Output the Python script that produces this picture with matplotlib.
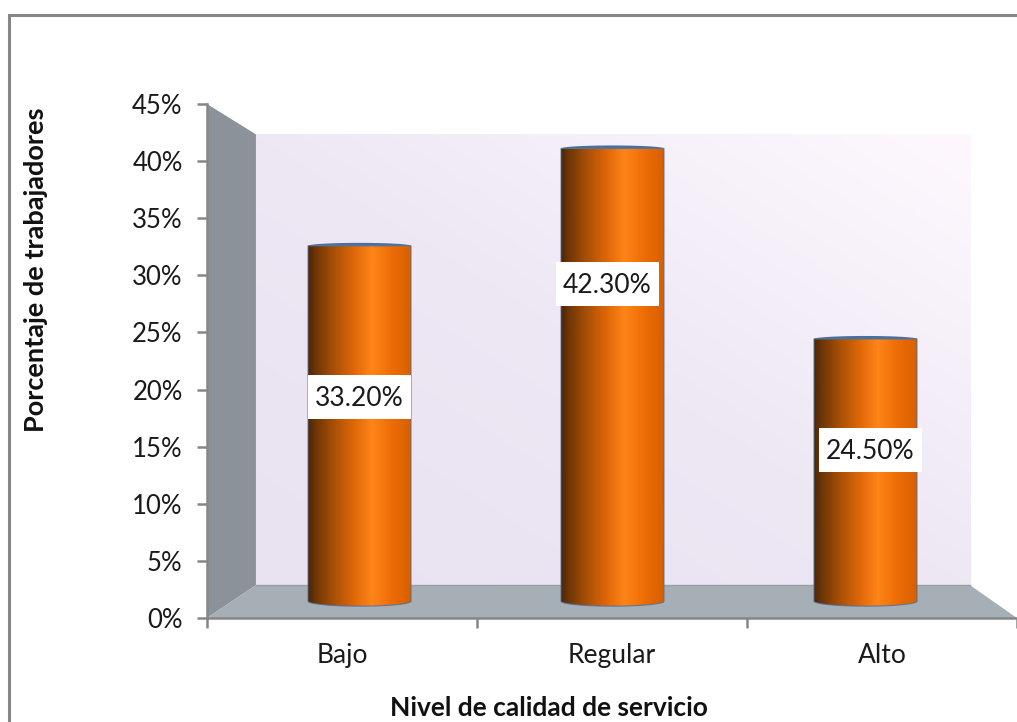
import numpy as np
import matplotlib
matplotlib.use("Agg")
import matplotlib.pyplot as plt
from matplotlib.colors import LinearSegmentedColormap
from matplotlib.lines import Line2D
from matplotlib.patches import Polygon, Rectangle

categories = ["Bajo", "Regular", "Alto"]
values = [0.332, 0.423, 0.245]
label_texts = ["33.20%", "42.30%", "24.50%"]
yticks = [0, 0.05, 0.10, 0.15, 0.20, 0.25, 0.30, 0.35, 0.40, 0.45]

W, H = 1017, 722
LEFT, RIGHT, TOP, BOTTOM = 207, 1017, 104, 618

# size of one pixel in data units
PX = 3 / (RIGHT - LEFT)
PY = 0.45 / (BOTTOM - TOP)

# perspective of the 3d box: everything shrinks towards a vanishing point
VX, VY = (620 - LEFT) * PX, (BOTTOM - 351) * PY
BACK_X, BACK_Y = 0.8815, 0.877
MID = 0.937


def project(x, y, sx, sy):
    return VX + (x - VX) * sx, VY + (y - VY) * sy


plt.rcParams["font.family"] = ["Lato", "DejaVu Sans"]
fig = plt.figure(figsize=(W / 100, H / 100), dpi=100)
ax = fig.add_axes([LEFT / W, 1 - BOTTOM / H, (RIGHT - LEFT) / W, (BOTTOM - TOP) / H])
ax.set_xlim(0, 3)
ax.set_ylim(0, 0.45)
ax.patch.set_visible(False)

# back wall with a soft diagonal gradient
wx0, wy0 = project(0, 0, BACK_X, BACK_Y)
wx1, wy1 = project(3, 0.45, BACK_X, BACK_Y)
gx, gy = np.meshgrid(np.linspace(0, 1, 200), np.linspace(0, 1, 200))
wall_cmap = LinearSegmentedColormap.from_list("wall", ["#e8e2f1", "#eee8f5", "#fef8fe"])
ax.imshow((gx + gy) / 2, extent=(wx0, wx1, wy0, wy1), origin="lower", aspect="auto",
          cmap=wall_cmap, zorder=1)

# side wall and floor
ax.add_patch(Polygon([(0, 0), (0, 0.45), (wx0, wy1), (wx0, wy0)], closed=True,
                     fc="#8b9299", ec="none", zorder=2))
ax.add_patch(Polygon([(0, 0), (wx0, wy0), (wx1, wy0), (3, 0)], closed=True,
                     fc="#a6afb5", ec="none", zorder=2))
ax.plot([wx0, wx1], [wy0, wy0], color="#9a9fa3", lw=1, zorder=2)

bar_cmap = LinearSegmentedColormap.from_list("bar", [
    (0, "#4f2606"), (0.07, "#6c3506"), (0.25, "#a85006"), (0.45, "#e06808"),
    (0.62, "#ff8518"), (0.8, "#ee6e08"), (1, "#d85f00")])
grad = np.linspace(0, 1, 256).reshape(1, -1)

half_w = 51.5 * PX
ry_bottom = 5 * PY
ry_top = 3 * PY
t = np.linspace(0, np.pi, 60)

# cylinders stand half way into the box
for i, v in enumerate(values):
    cx, y0 = project(i + 0.5, 0, MID, MID)
    _, y1 = project(i + 0.5, v, MID, MID)
    ax_x = cx + half_w * np.cos(t)
    low = y0 - ry_bottom * np.sin(t)
    outline = np.column_stack([np.r_[cx - half_w, ax_x[::-1], cx + half_w],
                               np.r_[y1, low[::-1], y1]])
    body = Polygon(outline, closed=True, transform=ax.transData, fc="none", ec="#4a6f9c",
                   lw=0.8, alpha=0.8, zorder=4)
    ax.add_patch(body)
    im = ax.imshow(grad, extent=(cx - half_w, cx + half_w, y0 - ry_bottom, y1), origin="lower",
                   aspect="auto", cmap=bar_cmap, zorder=3)
    im.set_clip_path(body)
    # thin sliver of the top cap
    ax.add_patch(Polygon(np.column_stack([ax_x, y1 + ry_top * np.sin(t)]), closed=True,
                         fc="#4a6f9c", ec="none", zorder=4))

# value labels sit on white boxes
label_y = [0.1935, 0.2925, 0.147]
label_x = [359, 607, 870]
for px, ly, s in zip(label_x, label_y, label_texts):
    lx = (px - LEFT) * PX
    ax.add_patch(Rectangle((lx - 51.5 * PX, ly - 22 * PY), 103 * PX, 44 * PY,
                           fc="white", ec="none", zorder=5))
    ax.text(lx, ly - 1.5 * PY, s, fontsize=19, color="#1a1a1a", ha="center", va="center", zorder=6)

ax.set_xlim(0, 3)
ax.set_ylim(0, 0.45)

for side in ["top", "right"]:
    ax.spines[side].set_visible(False)
for side in ["left", "bottom"]:
    ax.spines[side].set_color("#868686")
    ax.spines[side].set_linewidth(1.8)
    ax.spines[side].set_zorder(7)

ax.set_yticks(yticks)
ax.set_yticklabels([f"{round(v * 100)}%" for v in yticks])
ax.set_xticks([0, 1, 2, 3])
ax.set_xticklabels([])
ax.set_xticks([0.5, 1.5, 2.5], labels=categories, minor=True)
ax.tick_params(axis="both", which="major", length=7, width=1.8, color="#868686",
               labelsize=18.5, labelcolor="#1a1a1a")
ax.tick_params(axis="y", pad=10.5)
ax.tick_params(axis="x", which="minor", length=0, labelsize=19, labelcolor="#1a1a1a", pad=18)

ax.set_xlabel("Nivel de calidad de servicio", fontsize=19, fontweight="bold", color="#111111")
ax.set_ylabel("Porcentaje de trabajadores", fontsize=19.5, fontweight="bold", color="#111111")
ax.xaxis.set_label_coords((549 - LEFT) / (RIGHT - LEFT), (BOTTOM - 708) / (BOTTOM - TOP))
ax.yaxis.set_label_coords((36 - LEFT) / (RIGHT - LEFT), (BOTTOM - 270) / (BOTTOM - TOP))
ax.xaxis.label.set_verticalalignment("center")
ax.yaxis.label.set_verticalalignment("center")

# chart area border, open at the right and at the bottom
fig.add_artist(Line2D([9 / W, 9 / W, 1], [0, 1 - 14.5 / H, 1 - 14.5 / H],
                      color="#868686", lw=2.2, solid_joinstyle="miter"))

fig.savefig("out.png", dpi=100)
